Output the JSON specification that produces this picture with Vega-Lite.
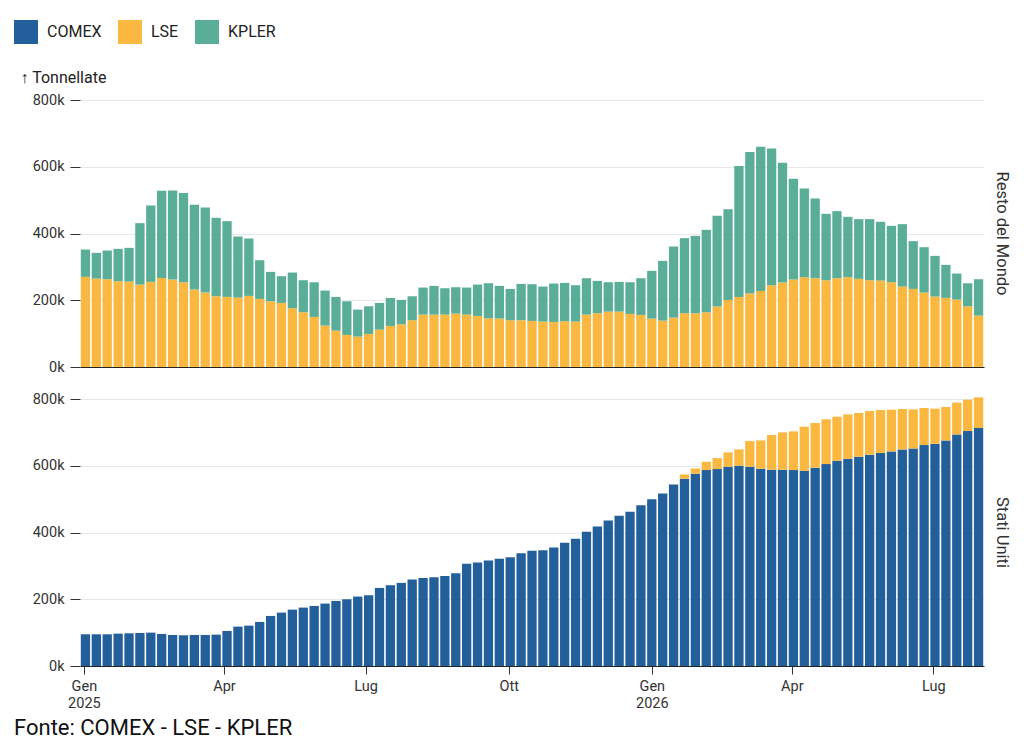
{
  "$schema": "https://vega.github.io/schema/vega-lite/v6.json",
  "description": "Scorte settimanali per fonte: Resto del Mondo e Stati Uniti",
  "background": "white",
  "padding": {"top": 20, "left": 14, "right": 6, "bottom": 6},
  "datasets": {
    "resto": [
      {"data": "2025-01-02", "LSE": 270000, "KPLER": 82000},
      {"data": "2025-01-09", "LSE": 265000, "KPLER": 77000},
      {"data": "2025-01-16", "LSE": 263000, "KPLER": 86000},
      {"data": "2025-01-23", "LSE": 257000, "KPLER": 97000},
      {"data": "2025-01-30", "LSE": 256000, "KPLER": 101000},
      {"data": "2025-02-06", "LSE": 247000, "KPLER": 184000},
      {"data": "2025-02-13", "LSE": 255000, "KPLER": 229000},
      {"data": "2025-02-20", "LSE": 267000, "KPLER": 261000},
      {"data": "2025-02-27", "LSE": 262000, "KPLER": 267000},
      {"data": "2025-03-06", "LSE": 254000, "KPLER": 267000},
      {"data": "2025-03-13", "LSE": 232000, "KPLER": 254000},
      {"data": "2025-03-20", "LSE": 223000, "KPLER": 255000},
      {"data": "2025-03-27", "LSE": 212000, "KPLER": 235000},
      {"data": "2025-04-03", "LSE": 210000, "KPLER": 227000},
      {"data": "2025-04-10", "LSE": 208000, "KPLER": 183000},
      {"data": "2025-04-17", "LSE": 213000, "KPLER": 172000},
      {"data": "2025-04-24", "LSE": 204000, "KPLER": 116000},
      {"data": "2025-05-01", "LSE": 197000, "KPLER": 88000},
      {"data": "2025-05-08", "LSE": 192000, "KPLER": 80000},
      {"data": "2025-05-15", "LSE": 176000, "KPLER": 107000},
      {"data": "2025-05-22", "LSE": 164000, "KPLER": 96000},
      {"data": "2025-05-29", "LSE": 150000, "KPLER": 104000},
      {"data": "2025-06-05", "LSE": 124000, "KPLER": 105000},
      {"data": "2025-06-12", "LSE": 109000, "KPLER": 101000},
      {"data": "2025-06-19", "LSE": 96000, "KPLER": 101000},
      {"data": "2025-06-26", "LSE": 91000, "KPLER": 81000},
      {"data": "2025-07-03", "LSE": 99000, "KPLER": 83000},
      {"data": "2025-07-10", "LSE": 112000, "KPLER": 80000},
      {"data": "2025-07-17", "LSE": 123000, "KPLER": 84000},
      {"data": "2025-07-24", "LSE": 128000, "KPLER": 73000},
      {"data": "2025-07-31", "LSE": 140000, "KPLER": 72000},
      {"data": "2025-08-07", "LSE": 157000, "KPLER": 81000},
      {"data": "2025-08-14", "LSE": 157000, "KPLER": 86000},
      {"data": "2025-08-21", "LSE": 157000, "KPLER": 79000},
      {"data": "2025-08-28", "LSE": 160000, "KPLER": 79000},
      {"data": "2025-09-04", "LSE": 157000, "KPLER": 81000},
      {"data": "2025-09-11", "LSE": 153000, "KPLER": 94000},
      {"data": "2025-09-18", "LSE": 146000, "KPLER": 105000},
      {"data": "2025-09-25", "LSE": 145000, "KPLER": 98000},
      {"data": "2025-10-02", "LSE": 140000, "KPLER": 94000},
      {"data": "2025-10-09", "LSE": 140000, "KPLER": 109000},
      {"data": "2025-10-16", "LSE": 138000, "KPLER": 110000},
      {"data": "2025-10-23", "LSE": 136000, "KPLER": 105000},
      {"data": "2025-10-30", "LSE": 135000, "KPLER": 115000},
      {"data": "2025-11-06", "LSE": 137000, "KPLER": 115000},
      {"data": "2025-11-13", "LSE": 136000, "KPLER": 109000},
      {"data": "2025-11-20", "LSE": 157000, "KPLER": 109000},
      {"data": "2025-11-27", "LSE": 161000, "KPLER": 97000},
      {"data": "2025-12-04", "LSE": 166000, "KPLER": 88000},
      {"data": "2025-12-11", "LSE": 166000, "KPLER": 89000},
      {"data": "2025-12-18", "LSE": 159000, "KPLER": 95000},
      {"data": "2025-12-25", "LSE": 156000, "KPLER": 110000},
      {"data": "2026-01-01", "LSE": 145000, "KPLER": 143000},
      {"data": "2026-01-08", "LSE": 139000, "KPLER": 179000},
      {"data": "2026-01-15", "LSE": 148000, "KPLER": 213000},
      {"data": "2026-01-22", "LSE": 161000, "KPLER": 225000},
      {"data": "2026-01-29", "LSE": 161000, "KPLER": 232000},
      {"data": "2026-02-05", "LSE": 164000, "KPLER": 247000},
      {"data": "2026-02-12", "LSE": 181000, "KPLER": 272000},
      {"data": "2026-02-19", "LSE": 201000, "KPLER": 272000},
      {"data": "2026-02-26", "LSE": 210000, "KPLER": 392000},
      {"data": "2026-03-05", "LSE": 220000, "KPLER": 424000},
      {"data": "2026-03-12", "LSE": 228000, "KPLER": 432000},
      {"data": "2026-03-19", "LSE": 245000, "KPLER": 410000},
      {"data": "2026-03-26", "LSE": 253000, "KPLER": 359000},
      {"data": "2026-04-02", "LSE": 262000, "KPLER": 302000},
      {"data": "2026-04-09", "LSE": 269000, "KPLER": 266000},
      {"data": "2026-04-16", "LSE": 266000, "KPLER": 239000},
      {"data": "2026-04-23", "LSE": 260000, "KPLER": 199000},
      {"data": "2026-04-30", "LSE": 266000, "KPLER": 201000},
      {"data": "2026-05-07", "LSE": 269000, "KPLER": 181000},
      {"data": "2026-05-14", "LSE": 264000, "KPLER": 179000},
      {"data": "2026-05-21", "LSE": 260000, "KPLER": 183000},
      {"data": "2026-05-28", "LSE": 259000, "KPLER": 176000},
      {"data": "2026-06-04", "LSE": 254000, "KPLER": 169000},
      {"data": "2026-06-11", "LSE": 241000, "KPLER": 187000},
      {"data": "2026-06-18", "LSE": 234000, "KPLER": 143000},
      {"data": "2026-06-25", "LSE": 223000, "KPLER": 136000},
      {"data": "2026-07-02", "LSE": 211000, "KPLER": 122000},
      {"data": "2026-07-09", "LSE": 207000, "KPLER": 99000},
      {"data": "2026-07-16", "LSE": 202000, "KPLER": 78000},
      {"data": "2026-07-23", "LSE": 182000, "KPLER": 69000},
      {"data": "2026-07-30", "LSE": 154000, "KPLER": 109000}
    ],
    "usa": [
      {"data": "2025-01-02", "COMEX": 95000, "LSE": 0},
      {"data": "2025-01-09", "COMEX": 95000, "LSE": 0},
      {"data": "2025-01-16", "COMEX": 95000, "LSE": 0},
      {"data": "2025-01-23", "COMEX": 97000, "LSE": 0},
      {"data": "2025-01-30", "COMEX": 98000, "LSE": 0},
      {"data": "2025-02-06", "COMEX": 99000, "LSE": 0},
      {"data": "2025-02-13", "COMEX": 100000, "LSE": 0},
      {"data": "2025-02-20", "COMEX": 96000, "LSE": 0},
      {"data": "2025-02-27", "COMEX": 93000, "LSE": 0},
      {"data": "2025-03-06", "COMEX": 92000, "LSE": 0},
      {"data": "2025-03-13", "COMEX": 93000, "LSE": 0},
      {"data": "2025-03-20", "COMEX": 93000, "LSE": 0},
      {"data": "2025-03-27", "COMEX": 94000, "LSE": 0},
      {"data": "2025-04-03", "COMEX": 105000, "LSE": 0},
      {"data": "2025-04-10", "COMEX": 118000, "LSE": 0},
      {"data": "2025-04-17", "COMEX": 121000, "LSE": 0},
      {"data": "2025-04-24", "COMEX": 132000, "LSE": 0},
      {"data": "2025-05-01", "COMEX": 150000, "LSE": 0},
      {"data": "2025-05-08", "COMEX": 160000, "LSE": 0},
      {"data": "2025-05-15", "COMEX": 169000, "LSE": 0},
      {"data": "2025-05-22", "COMEX": 175000, "LSE": 0},
      {"data": "2025-05-29", "COMEX": 180000, "LSE": 0},
      {"data": "2025-06-05", "COMEX": 187000, "LSE": 0},
      {"data": "2025-06-12", "COMEX": 195000, "LSE": 0},
      {"data": "2025-06-19", "COMEX": 200000, "LSE": 0},
      {"data": "2025-06-26", "COMEX": 208000, "LSE": 0},
      {"data": "2025-07-03", "COMEX": 212000, "LSE": 0},
      {"data": "2025-07-10", "COMEX": 234000, "LSE": 0},
      {"data": "2025-07-17", "COMEX": 242000, "LSE": 0},
      {"data": "2025-07-24", "COMEX": 249000, "LSE": 0},
      {"data": "2025-07-31", "COMEX": 259000, "LSE": 0},
      {"data": "2025-08-07", "COMEX": 264000, "LSE": 0},
      {"data": "2025-08-14", "COMEX": 266000, "LSE": 0},
      {"data": "2025-08-21", "COMEX": 270000, "LSE": 0},
      {"data": "2025-08-28", "COMEX": 278000, "LSE": 0},
      {"data": "2025-09-04", "COMEX": 306000, "LSE": 0},
      {"data": "2025-09-11", "COMEX": 310000, "LSE": 0},
      {"data": "2025-09-18", "COMEX": 316000, "LSE": 0},
      {"data": "2025-09-25", "COMEX": 321000, "LSE": 0},
      {"data": "2025-10-02", "COMEX": 326000, "LSE": 0},
      {"data": "2025-10-09", "COMEX": 338000, "LSE": 0},
      {"data": "2025-10-16", "COMEX": 345000, "LSE": 0},
      {"data": "2025-10-23", "COMEX": 347000, "LSE": 0},
      {"data": "2025-10-30", "COMEX": 355000, "LSE": 0},
      {"data": "2025-11-06", "COMEX": 369000, "LSE": 0},
      {"data": "2025-11-13", "COMEX": 381000, "LSE": 0},
      {"data": "2025-11-20", "COMEX": 402000, "LSE": 0},
      {"data": "2025-11-27", "COMEX": 418000, "LSE": 0},
      {"data": "2025-12-04", "COMEX": 436000, "LSE": 0},
      {"data": "2025-12-11", "COMEX": 450000, "LSE": 0},
      {"data": "2025-12-18", "COMEX": 462000, "LSE": 0},
      {"data": "2025-12-25", "COMEX": 482000, "LSE": 0},
      {"data": "2026-01-01", "COMEX": 500000, "LSE": 0},
      {"data": "2026-01-08", "COMEX": 517000, "LSE": 0},
      {"data": "2026-01-15", "COMEX": 544000, "LSE": 0},
      {"data": "2026-01-22", "COMEX": 561000, "LSE": 13000},
      {"data": "2026-01-29", "COMEX": 576000, "LSE": 16000},
      {"data": "2026-02-05", "COMEX": 587000, "LSE": 25000},
      {"data": "2026-02-12", "COMEX": 590000, "LSE": 33000},
      {"data": "2026-02-19", "COMEX": 597000, "LSE": 43000},
      {"data": "2026-02-26", "COMEX": 600000, "LSE": 49000},
      {"data": "2026-03-05", "COMEX": 597000, "LSE": 77000},
      {"data": "2026-03-12", "COMEX": 591000, "LSE": 85000},
      {"data": "2026-03-19", "COMEX": 588000, "LSE": 104000},
      {"data": "2026-03-26", "COMEX": 588000, "LSE": 112000},
      {"data": "2026-04-02", "COMEX": 587000, "LSE": 116000},
      {"data": "2026-04-09", "COMEX": 585000, "LSE": 132000},
      {"data": "2026-04-16", "COMEX": 594000, "LSE": 134000},
      {"data": "2026-04-23", "COMEX": 605000, "LSE": 134000},
      {"data": "2026-04-30", "COMEX": 615000, "LSE": 132000},
      {"data": "2026-05-07", "COMEX": 621000, "LSE": 133000},
      {"data": "2026-05-14", "COMEX": 627000, "LSE": 131000},
      {"data": "2026-05-21", "COMEX": 633000, "LSE": 131000},
      {"data": "2026-05-28", "COMEX": 638000, "LSE": 129000},
      {"data": "2026-06-04", "COMEX": 643000, "LSE": 125000},
      {"data": "2026-06-11", "COMEX": 649000, "LSE": 121000},
      {"data": "2026-06-18", "COMEX": 652000, "LSE": 117000},
      {"data": "2026-06-25", "COMEX": 662000, "LSE": 111000},
      {"data": "2026-07-02", "COMEX": 666000, "LSE": 105000},
      {"data": "2026-07-09", "COMEX": 676000, "LSE": 100000},
      {"data": "2026-07-16", "COMEX": 694000, "LSE": 95000},
      {"data": "2026-07-23", "COMEX": 704000, "LSE": 94000},
      {"data": "2026-07-30", "COMEX": 713000, "LSE": 92000}
    ]
  },
  "title": {
    "text": "Fonte: COMEX - LSE - KPLER",
    "orient": "bottom",
    "anchor": "start",
    "frame": "bounds",
    "font": "Roboto",
    "fontSize": 22,
    "fontWeight": "normal",
    "color": "#111",
    "offset": 8
  },
  "spacing": 17,
  "vconcat": [
    {
      "data": {"name": "resto"},
      "width": 904,
      "height": 267,
      "title": {"text": "Resto del Mondo", "orient": "right", "anchor": "middle", "fontSize": 16.5, "fontWeight": "normal", "color": "#333", "offset": 9},
      "transform": [
        {"fold": ["LSE", "KPLER"], "as": ["fonte", "valore"]},
        {"calculate": "indexof(['COMEX','LSE','KPLER'], datum.fonte)", "as": "ordine"}
      ],
      "mark": {"type": "bar", "width": 9.3, "clip": false},
      "encoding": {
        "x": {
          "field": "data",
          "type": "temporal",
          "scale": {"type": "utc", "padding": 0, "domain": [{"year": 2024, "month": 12, "date": 29, "hours": 12, "utc": true}, {"year": 2026, "month": 8, "date": 2, "hours": 12, "utc": true}]},
          "axis": {"title": null, "labels": false, "ticks": false, "grid": false, "domainColor": "#222"}
        },
        "y": {
          "field": "valore",
          "type": "quantitative",
          "stack": "zero",
          "scale": {"domain": [0, 800000], "nice": false},
          "axis": {
            "title": "↑ Tonnellate",
            "titleAngle": 0,
            "titleAlign": "left",
            "titleBaseline": "alphabetic",
            "titleX": -60,
            "titleY": -18,
            "titleFontSize": 16,
            "titleFontWeight": "normal",
            "titleColor": "#222",
            "values": [0, 200000, 400000, 600000, 800000],
            "labelExpr": "datum.value / 1000 + 'k'",
            "domain": false,
            "tickSize": 10,
            "labelPadding": 6
          }
        },
        "color": {
          "field": "fonte",
          "type": "nominal",
          "scale": {"domain": ["COMEX", "LSE", "KPLER"], "range": ["#23609b", "#fbb841", "#5aae97"]},
          "legend": {
            "title": null,
            "orient": "none",
            "direction": "horizontal",
            "legendX": -66,
            "legendY": -80,
            "symbolType": "square",
            "symbolSize": 576,
            "symbolStrokeWidth": 0,
            "symbolOpacity": 1,
            "labelFontSize": 16,
            "labelColor": "#222",
            "labelOffset": 9,
            "columnPadding": 16
          }
        },
        "order": {"field": "ordine", "type": "quantitative"}
      }
    },
    {
      "data": {"name": "usa"},
      "width": 904,
      "height": 267,
      "title": {"text": "Stati Uniti", "orient": "right", "anchor": "middle", "fontSize": 16.5, "fontWeight": "normal", "color": "#333", "offset": 9},
      "transform": [
        {"fold": ["COMEX", "LSE"], "as": ["fonte", "valore"]},
        {"calculate": "indexof(['COMEX','LSE','KPLER'], datum.fonte)", "as": "ordine"}
      ],
      "mark": {"type": "bar", "width": 9.3, "clip": false},
      "encoding": {
        "x": {
          "field": "data",
          "type": "temporal",
          "scale": {"type": "utc", "padding": 0, "domain": [{"year": 2024, "month": 12, "date": 29, "hours": 12, "utc": true}, {"year": 2026, "month": 8, "date": 2, "hours": 12, "utc": true}]},
          "axis": {
            "title": null,
            "grid": false,
            "domainColor": "#222",
            "values": [
              {"year": 2025, "month": 1, "date": 1, "utc": true},
              {"year": 2025, "month": 4, "date": 1, "utc": true},
              {"year": 2025, "month": 7, "date": 1, "utc": true},
              {"year": 2025, "month": 10, "date": 1, "utc": true},
              {"year": 2026, "month": 1, "date": 1, "utc": true},
              {"year": 2026, "month": 4, "date": 1, "utc": true},
              {"year": 2026, "month": 7, "date": 1, "utc": true}
            ],
            "labelExpr": "utcmonth(datum.value) == 0 ? [['Gen','Feb','Mar','Apr','Mag','Giu','Lug','Ago','Set','Ott','Nov','Dic'][utcmonth(datum.value)], utcFormat(datum.value, '%Y')] : ['Gen','Feb','Mar','Apr','Mag','Giu','Lug','Ago','Set','Ott','Nov','Dic'][utcmonth(datum.value)]",
            "labelAlign": "center",
            "labelFlush": false,
            "labelOverlap": false,
            "labelLineHeight": 17,
            "tickSize": 8,
            "labelPadding": 5
          }
        },
        "y": {
          "field": "valore",
          "type": "quantitative",
          "stack": "zero",
          "scale": {"domain": [0, 800000], "nice": false},
          "axis": {
            "title": null,
            "values": [0, 200000, 400000, 600000, 800000],
            "labelExpr": "datum.value / 1000 + 'k'",
            "domain": false,
            "tickSize": 10,
            "labelPadding": 6
          }
        },
        "color": {"field": "fonte", "type": "nominal"},
        "order": {"field": "ordine", "type": "quantitative"}
      }
    }
  ],
  "config": {
    "font": "Roboto",
    "view": {"stroke": null},
    "axis": {
      "labelFont": "Roboto",
      "labelFontSize": 14.5,
      "labelColor": "#333",
      "tickColor": "#333",
      "gridColor": "#e8e8e8",
      "titleFont": "Roboto"
    },
    "legend": {"labelFont": "Roboto", "padding": 0},
    "title": {"font": "Roboto"}
  }
}
